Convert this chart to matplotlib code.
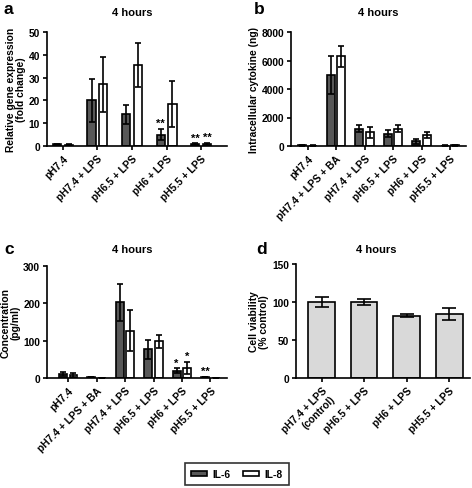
import matplotlib
matplotlib.use("Agg")
import matplotlib.pyplot as plt
import numpy as np
from matplotlib.patches import Patch

plt.rcParams['font.family'] = ['Liberation Sans', 'DejaVu Sans']
plt.rcParams['font.weight'] = 'bold'

# Panel a
a_cats = ["pH7.4", "pH7.4 + LPS", "pH6.5 + LPS", "pH6 + LPS", "pH5.5 + LPS"]
a_il6 = [0.7, 20, 14, 5, 0.8]
a_il6_err = [0.3, 9.5, 4.2, 2.5, 0.3]
a_il8 = [0.6, 27, 35.5, 18.5, 1.0]
a_il8_err = [0.2, 12, 9.5, 10.2, 0.5]
a_il6_sig = ["", "", "", "**", "**"]
a_il8_sig = ["", "", "", "", "**"]

# Panel b
b_cats = ["pH7.4", "pH7.4 + LPS + BA", "pH7.4 + LPS", "pH6.5 + LPS", "pH6 + LPS", "pH5.5 + LPS"]
b_il6 = [50, 5000, 1200, 850, 330, 30]
b_il6_err = [20, 1350, 250, 250, 170, 10]
b_il8 = [30, 6300, 950, 1200, 780, 40]
b_il8_err = [10, 750, 400, 250, 220, 10]

# Panel c
c_cats = ["pH7.4", "pH7.4 + LPS + BA", "pH7.4 + LPS", "pH6.5 + LPS", "pH6 + LPS", "pH5.5 + LPS"]
c_il6 = [10, 2, 203, 77, 20, 3]
c_il6_err = [5, 0.5, 50, 25, 6, 1]
c_il8 = [8, 0, 127, 98, 28, 0.5]
c_il8_err = [6, 0, 55, 17, 16, 0.3]
c_il6_sig = ["", "", "", "", "*", "**"]
c_il8_sig = ["", "", "", "", "*", ""]

# Panel d
d_cats = ["pH7.4 + LPS\n(control)", "pH6.5 + LPS", "pH6 + LPS", "pH5.5 + LPS"]
d_vals = [100, 100, 82, 84]
d_err = [7, 4, 2, 8]

W, H = 472, 489
fig = plt.figure(figsize=(W / 100, H / 100), dpi=100)

def ax_px(l, r, t, b):
    return fig.add_axes([l / W, (H - b) / H, (r - l) / W, (b - t) / H])

DARK = "#585858"
LW = 1.2
FS = 7.4

def style(ax, ymax, yticks, xt, labels):
    for s in ["top", "right"]:
        ax.spines[s].set_visible(False)
    for s in ["left", "bottom"]:
        ax.spines[s].set_linewidth(LW)
    ax.set_ylim(0, ymax)
    ax.set_yticks(yticks)
    ax.set_xticks(xt)
    ax.set_xticklabels(labels, rotation=45, ha="right", rotation_mode="anchor",
                       fontsize=FS, fontweight="bold")
    ax.tick_params(axis="both", width=LW, length=3, labelsize=FS, pad=2)
    for t in ax.get_yticklabels():
        t.set_fontweight("bold")

def grouped(ax, n, il6, e6, il8, e8, off, bw, sig6=None, sig8=None, ystar=0):
    x = np.arange(n)
    ek = dict(ecolor="black", elinewidth=LW, capsize=2.2, capthick=LW)
    ax.bar(x - off, il6, bw, color=DARK, edgecolor="black", linewidth=LW,
           yerr=e6, error_kw=ek, zorder=2)
    ax.bar(x + off, il8, bw, color="white", edgecolor="black", linewidth=LW,
           yerr=e8, error_kw=ek, zorder=2)
    if sig6:
        for i, s in enumerate(sig6):
            if s:
                ax.text(x[i] - off, il6[i] + e6[i] + ystar, s, ha="center",
                        va="bottom", fontsize=8, fontweight="bold")
    if sig8:
        for i, s in enumerate(sig8):
            if s:
                ax.text(x[i] + off, il8[i] + e8[i] + ystar, s, ha="center",
                        va="bottom", fontsize=8, fontweight="bold")
    return x

# a
axa = ax_px(47, 227, 33, 147)
xa = grouped(axa, len(a_cats), a_il6, a_il6_err, a_il8, a_il8_err, 0.17, 0.24,
             a_il6_sig, a_il8_sig, ystar=0.3)
axa.set_xlim(-0.46, 4.75)
style(axa, 50, [0, 10, 20, 30, 40, 50], xa, a_cats)
axa.set_ylabel("Relative gene expression\n(fold change)", fontsize=FS,
               fontweight="bold", labelpad=2, linespacing=1.0)

# b
axb = ax_px(291, 466, 33, 147)
xb = grouped(axb, len(b_cats), b_il6, b_il6_err, b_il8, b_il8_err, 0.19, 0.28)
axb.set_xlim(-0.58, 5.56)
style(axb, 8000, [0, 2000, 4000, 6000, 8000], xb, b_cats)
axb.set_ylabel("Intracellular cytokine (ng)", fontsize=FS, fontweight="bold",
               labelpad=2)

# c
axc = ax_px(47, 227, 267, 379)
xc = grouped(axc, len(c_cats), c_il6, c_il6_err, c_il8, c_il8_err, 0.19, 0.28,
             c_il6_sig, c_il8_sig, ystar=2)
axc.set_xlim(-0.74, 5.58)
style(axc, 300, [0, 100, 200, 300], xc, c_cats)
axc.set_ylabel("Concentration\n(pg/ml)", fontsize=FS, fontweight="bold",
               labelpad=2, linespacing=1.0)

# d
axd = ax_px(296, 470, 265, 379)
xd = np.arange(len(d_cats))
axd.bar(xd, d_vals, 0.63, color="#d9d9d9", edgecolor="black", linewidth=LW,
        yerr=d_err, error_kw=dict(ecolor="black", elinewidth=LW, capsize=5,
                                  capthick=LW), zorder=2)
axd.set_xlim(-0.6, 3.49)
style(axd, 150, [0, 50, 100, 150], xd, d_cats)
axd.set_ylabel("Cell viability\n(% control)", fontsize=FS, fontweight="bold",
               labelpad=2, linespacing=1.0)

# titles & letters
for (x, y, s) in [(132, 13, "4 hours"), (378, 13, "4 hours"),
                  (132, 250, "4 hours"), (376, 250, "4 hours")]:
    fig.text(x / W, 1 - y / H, s, ha="center", va="center", fontsize=8,
             fontweight="bold")
for (x, y, s) in [(4, 10, "a"), (254, 10, "b"), (4, 250, "c"), (256, 250, "d")]:
    fig.text(x / W, 1 - y / H, s, ha="left", va="center", fontsize=12.5,
             fontweight="bold")

handles = [Patch(facecolor=DARK, edgecolor="black", linewidth=LW, label="IL-6"),
           Patch(facecolor="white", edgecolor="black", linewidth=LW, label="IL-8")]
leg = fig.legend(handles=handles, loc="center", bbox_to_anchor=(237 / W, 1 - 475 / H),
                 ncol=2, frameon=True, fontsize=7.4, handlelength=1.5,
                 handleheight=0.45, columnspacing=1.2, handletextpad=0.6,
                 fancybox=False, borderpad=0.6)
leg.get_frame().set_edgecolor("black")
leg.get_frame().set_linewidth(1.2)

fig.savefig("out.png", dpi=100)
